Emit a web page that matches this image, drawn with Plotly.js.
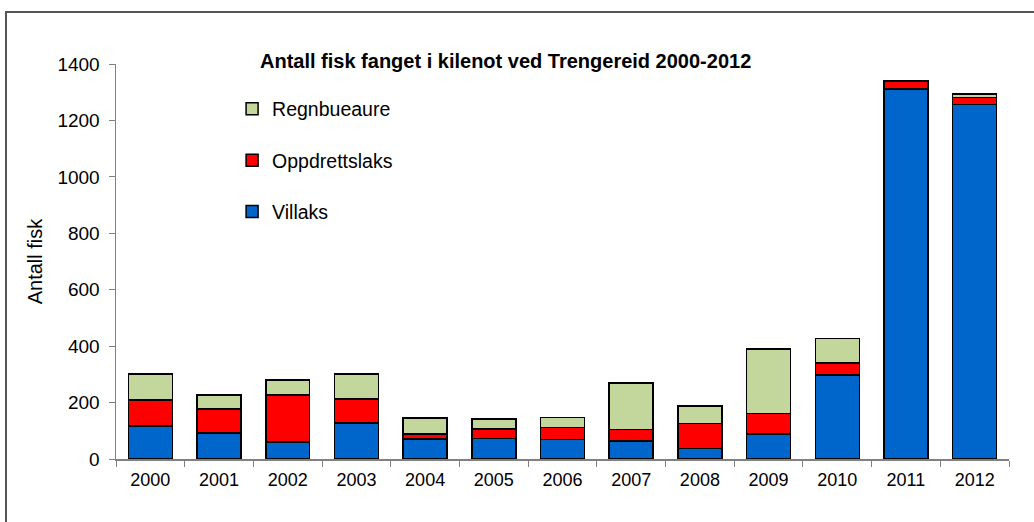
<!DOCTYPE html>
<html>
<head>
<meta charset="utf-8">
<script src="https://cdn.plot.ly/plotly-3.0.1.min.js"></script>
<style>
html,body{margin:0;padding:0;background:#fff;}
#wrap{position:relative;width:1034px;height:522px;overflow:hidden;}
#frame{position:absolute;left:5px;top:11px;width:1040px;height:520px;border-top:2px solid #555;border-left:2px solid #555;pointer-events:none;z-index:5;}
#chart{position:absolute;left:0;top:0;width:1034px;height:522px;}
</style>
</head>
<body>
<div id="wrap"><div id="chart"></div><div id="frame"></div></div>
<script>
const years = ['2000','2001','2002','2003','2004','2005','2006','2007','2008','2009','2010','2011','2012'];
const villaks = [117, 92, 60, 128, 71, 72, 70, 64, 38, 88, 297, 1311, 1256];
const oppdrettslaks = [92, 85, 167, 85, 18, 34, 42, 40, 87, 74, 43, 27, 26];
const regnbueaure = [92, 50, 53, 88, 56, 35, 35, 166, 63, 228, 87, 4, 12];
const yTicks = [0, 200, 400, 600, 800, 1000, 1200, 1400];

const line = {color:'#000', width:1.5};
const traces = [
  {type:'bar', name:'Villaks', x:years, y:villaks, marker:{color:'#0066CC', line:line}, legendgroup:'c', legendrank:3},
  {type:'bar', name:'Oppdrettslaks', x:years, y:oppdrettslaks, marker:{color:'#FF0000', line:line}, legendgroup:'b', legendrank:2},
  {type:'bar', name:'Regnbueaure', x:years, y:regnbueaure, marker:{color:'#C3D69B', line:line}, legendgroup:'a', legendrank:1}
];
const fam = '"Liberation Sans", Arial, sans-serif';
const layout = {
  width:1034, height:522,
  barmode:'stack', bargap:0.36,
  margin:{l:116, r:25, t:64, b:63},
  paper_bgcolor:'#fff', plot_bgcolor:'#fff',
  font:{family:fam, size:18, color:'#000'},
  title:{text:'<b>Antall fisk fanget i kilenot ved Trengereid 2000-2012</b>', font:{family:fam, size:20, color:'#000'}, x:0.489, xanchor:'center', y:0.883, yanchor:'middle'},
  xaxis:{type:'category', showline:true, linecolor:'#808080', linewidth:1.5, ticks:'outside', tickson:'boundaries', ticklen:6, tickcolor:'#808080', showgrid:false, tickfont:{family:fam, size:18, color:'#000'}, ticklabelstandoff:4, fixedrange:true},
  yaxis:{range:[0,1400], tickvals:yTicks, showline:true, linecolor:'#808080', linewidth:1.5, ticks:'outside', ticklen:6, tickcolor:'#808080', showgrid:false, zeroline:false, tickfont:{family:fam, size:19, color:'#000'}, ticklabelstandoff:5, title:{text:'Antall fisk', font:{family:fam, size:20, color:'#000'}, standoff:9}},
  showlegend:true,
  legend:{x:0.13, y:0.935, xanchor:'left', yanchor:'top', traceorder:'grouped', tracegroupgap:23, font:{family:fam, size:19.5, color:'#000'}, bgcolor:'rgba(0,0,0,0)', itemwidth:30}
};
Plotly.newPlot('chart', traces, layout, {displayModeBar:false, staticPlot:true});
</script>
</body>
</html>
